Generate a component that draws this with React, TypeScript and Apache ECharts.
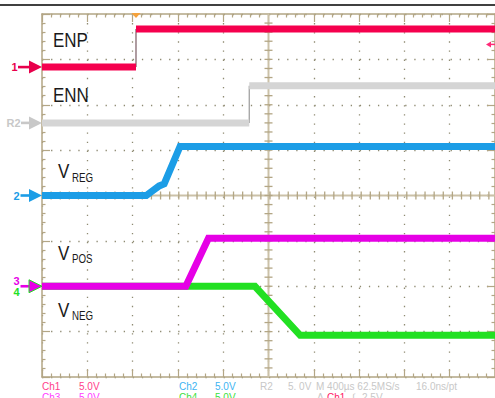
import React, { useEffect, useRef } from "react";
import * as echarts from "echarts";

// ---- data (time in µs, voltage in V) ----
const enpTimeUs = [0, 830, 830, 4000];
const enpVolts = [0, 0, 4.2, 4.2];
const ennTimeUs = [0, 1830, 1830, 4000];
const ennVolts = [0, 0, 4.1, 4.1];
const vregTimeUs = [0, 921, 974, 1035, 1079, 1219, 4000];
const vregVolts = [0, 0, 0.5, 1.06, 1.28, 5.4, 5.4];
const vposTimeUs = [0, 1270, 1470, 4000];
const vposVolts = [0, 0, 5.3, 5.3];
const vnegTimeUs = [0, 1880, 2280, 4000];
const vnegVolts = [0, 0, -5.4, -5.4];

const voltsPerDiv = 5;
const timePerDivUs = 400;
const timeDivs = 10;
const voltDivs = 8;

// channel ground offsets in divisions from centre
const ch1OffsetDiv = 2.83;
const r2OffsetDiv = 1.6;
const ch2OffsetDiv = 0;
const ch3OffsetDiv = -2;
const ch4OffsetDiv = -2;

const triggerTimeUs = 830;
const triggerLevelV = 2.5;

const scaleRow1 = [
  { t: "Ch1", c: "#ff3d8a", x: 42 },
  { t: "5.0V", c: "#ff3d8a", x: 79 },
  { t: "Ch2", c: "#3db4f2", x: 179 },
  { t: "5.0V", c: "#3db4f2", x: 215 },
  { t: "R2", c: "#c8c8c8", x: 260 },
  { t: "5. 0V", c: "#c8c8c8", x: 288 },
  { t: "M 400µs 62.5MS/s", c: "#c8c8c8", x: 316 },
  { t: "16.0ns/pt", c: "#c8c8c8", x: 416 },
];
const scaleRow2 = [
  { t: "Ch3", c: "#ff3cff", x: 42 },
  { t: "5.0V", c: "#ff3cff", x: 79 },
  { t: "Ch4", c: "#3ce03c", x: 179 },
  { t: "5.0V", c: "#3ce03c", x: 215 },
  { t: "A", c: "#c8c8c8", x: 317 },
  { t: "Ch1", c: "#ff1a66", x: 327 },
  { t: "∫", c: "#c8c8c8", x: 352 },
  { t: "2.5V", c: "#c8c8c8", x: 362 },
];

const GRID = { left: 42, top: 14, width: 456, height: 363 };
const TAN = "#b3a685";
const DOT = "#8e8a72";

function toDiv(v: number, off: number) {
  return off + v / voltsPerDiv;
}

function buildTrace(
  name: string,
  ts: number[],
  vs: number[],
  off: number,
  color: string,
  edgeColor: string,
  z: number
) {
  const thick: any[] = [];
  const thinSeries: any[] = [];
  for (let i = 0; i < ts.length; i++) {
    if (i > 0 && ts[i] === ts[i - 1]) {
      thick.push([ts[i], "-"]);
      thinSeries.push({
        type: "line",
        name: name + "-edge",
        data: [
          [ts[i - 1], toDiv(vs[i - 1], off)],
          [ts[i], toDiv(vs[i], off)],
        ],
        showSymbol: false,
        symbol: "none",
        lineStyle: { color: edgeColor, width: 1.2 },
        z,
        silent: true,
      });
    }
    thick.push([ts[i], toDiv(vs[i], off)]);
  }
  return [
    ...thinSeries,
    {
      type: "line",
      name,
      data: thick,
      showSymbol: false,
      symbol: "none",
      connectNulls: false,
      lineStyle: { color, width: 7, cap: "butt", join: "miter" },
      z,
      silent: true,
    },
  ];
}

function axisCommon(extra: any) {
  return {
    type: "value",
    axisLabel: { show: false },
    axisLine: { show: true, onZero: false, lineStyle: { color: TAN, width: 1.5 } },
    axisTick: { show: true, inside: true, length: 8, lineStyle: { color: TAN, width: 1.2 } },
    minorTick: { show: true, splitNumber: 5, length: 3.5, lineStyle: { color: TAN, width: 1.2 } },
    ...extra,
  };
}

export default function App() {
  const ref = useRef<HTMLDivElement>(null);
  useEffect(() => {
    if (!ref.current) return;
    const chart = echarts.init(ref.current, undefined, { renderer: "svg" });
    const xMax = timeDivs * timePerDivUs;
    const yMax = voltDivs / 2;
    const option: any = {
      animation: false,
      backgroundColor: "#ffffff",
      grid: { ...GRID, containLabel: false },
      xAxis: [
        axisCommon({
          min: 0,
          max: xMax,
          interval: timePerDivUs,
          position: "bottom",
          splitLine: { show: true, lineStyle: { color: DOT, width: 1.3, type: [1.3, 7.82] } },
        }),
        axisCommon({ min: 0, max: xMax, interval: timePerDivUs, position: "top", splitLine: { show: false } }),
      ],
      yAxis: [
        axisCommon({
          min: -yMax,
          max: yMax,
          interval: 1,
          position: "left",
          splitLine: { show: true, lineStyle: { color: DOT, width: 1.3, type: [1.3, 7.78] } },
        }),
        axisCommon({ min: -yMax, max: yMax, interval: 1, position: "right", splitLine: { show: false } }),
      ],
      series: [
        ...buildTrace("ENN", ennTimeUs, ennVolts, r2OffsetDiv, "#d5d5d5", "#9a9a9a", 2),
        ...buildTrace("ENP", enpTimeUs, enpVolts, ch1OffsetDiv, "#f5004e", "#7a5a62", 3),
        ...buildTrace("VREG", vregTimeUs, vregVolts, ch2OffsetDiv, "#1c9de6", "#1c9de6", 4),
        ...buildTrace("VNEG", vnegTimeUs, vnegVolts, ch4OffsetDiv, "#22e022", "#22e022", 5),
        ...buildTrace("VPOS", vposTimeUs, vposVolts, ch3OffsetDiv, "#e600e6", "#e600e6", 6),
      ],
    };
    chart.setOption(option);

    const px = (t: number, d: number) =>
      chart.convertToPixel({ xAxisIndex: 0, yAxisIndex: 0 }, [t, d]) as number[];
    const g: any[] = [];
    // top black rule
    g.push({ type: "line", z: 1, shape: { x1: 0, y1: 5, x2: 495, y2: 5 }, style: { stroke: "#000", lineWidth: 1.5 } });
    // centre cross
    const [cx, cy] = px(xMax / 2, 0);
    const gl = GRID.left, gt = GRID.top, gr = GRID.left + GRID.width, gb = GRID.top + GRID.height;
    g.push({ type: "line", z: 1, shape: { x1: cx, y1: gt, x2: cx, y2: gb }, style: { stroke: "#cbc1a8", lineWidth: 2 } });
    g.push({ type: "line", z: 1, shape: { x1: gl, y1: cy, x2: gr, y2: cy }, style: { stroke: "#cbc1a8", lineWidth: 2 } });
    for (let k = 1; k < voltDivs * 5; k++) {
      const y = gt + (k * GRID.height) / (voltDivs * 5);
      g.push({ type: "line", z: 1, shape: { x1: cx - 4, y1: y, x2: cx + 4, y2: y }, style: { stroke: TAN, lineWidth: 1.3 } });
    }
    for (let k = 1; k < timeDivs * 5; k++) {
      const x = gl + (k * GRID.width) / (timeDivs * 5);
      g.push({ type: "line", z: 1, shape: { x1: x, y1: cy - 4, x2: x, y2: cy + 4 }, style: { stroke: TAN, lineWidth: 1.3 } });
    }
    // trigger position marker
    const [tx] = px(triggerTimeUs, 0);
    g.push({
      type: "polygon", z: 10,
      shape: { points: [[tx - 4.5, 13], [tx + 4.5, 13], [tx, 18]] },
      style: { fill: "#f5a23c" },
    });
    // trigger level marker
    const [, ty] = px(0, ch1OffsetDiv + triggerLevelV / voltsPerDiv);
    g.push({ type: "polygon", z: 10, shape: { points: [[486, ty], [491, ty - 3], [491, ty + 3]] }, style: { fill: "#ff2a78" } });
    g.push({ type: "line", z: 10, shape: { x1: 489, y1: ty, x2: 495, y2: ty }, style: { stroke: "#ff2a78", lineWidth: 1.5 } });

    // channel markers
    const marker = (off: number, color: string, lineStart: number, stroke?: string) => {
      const [, y] = px(0, off);
      g.push({ type: "rect", z: 10, shape: { x: lineStart, y: y - 1.3, width: 30 - lineStart, height: 2.6 }, style: { fill: color } });
      g.push({
        type: "polygon", z: 10,
        shape: { points: [[29, y - 6.5], [42, y], [29, y + 6.5]] },
        style: { fill: color, stroke: stroke || color, lineWidth: stroke ? 1 : 0 },
      });
      return y;
    };
    const labelTxt = (text: string, x: number, y: number, color: string) =>
      g.push({
        type: "text", z: 10, x, y,
        style: { text, fill: color, font: 'bold 11px "Liberation Sans"', align: "right", verticalAlign: "middle", textAlign: "right", textVerticalAlign: "middle" },
      });
    const y1 = marker(ch1OffsetDiv, "#e8004c", 18);
    labelTxt("1", 17.5, y1, "#e8004c");
    const yr = marker(r2OffsetDiv, "#c8c8c8", 21);
    labelTxt("R2", 20.5, yr, "#c8c8c8");
    const y2 = marker(ch2OffsetDiv, "#1c9de6", 20.5);
    labelTxt("2", 19.5, y2, "#1c9de6");
    const y3 = marker(ch3OffsetDiv, "#e600e6", 20.5, "#22e022");
    labelTxt("3", 19.5, y3 - 5, "#e600e6");
    labelTxt("4", 19.5, y3 + 6, "#22e022");

    // waveform names
    const big = (text: string, x: number, y: number, size: number) =>
      g.push({
        type: "text", z: 10, x, y, scaleX: 0.81,
        style: { text, fill: "#1a1a1a", font: `${size}px "Liberation Sans"`, align: "left", verticalAlign: "middle", textAlign: "left", textVerticalAlign: "middle" },
      });
    big("ENP", 53, 40, 21);
    big("ENN", 53, 95, 21);
    big("V", 58, 170.5, 21);
    big("REG", 72, 177.5, 12);
    big("V", 58, 253, 21);
    big("POS", 72, 259, 12);
    big("V", 58, 309.5, 21);
    big("NEG", 72, 316, 12);

    // scale readouts
    const small = (row: any[], y: number) =>
      row.forEach((r) =>
        g.push({
          type: "text", z: 10, x: r.x, y,
          style: { text: r.t, fill: r.c, font: '10px "Liberation Sans"', align: "left", verticalAlign: "middle", textAlign: "left", textVerticalAlign: "middle" },
        })
      );
    small(scaleRow1, 386.5);
    small(scaleRow2, 397.5);

    chart.setOption({ graphic: { elements: g } });
    return () => chart.dispose();
  }, []);
  return (
    <div
      ref={ref}
      style={{ position: "fixed", left: 0, top: 0, width: 495, height: 398, background: "#fff" }}
    />
  );
}
